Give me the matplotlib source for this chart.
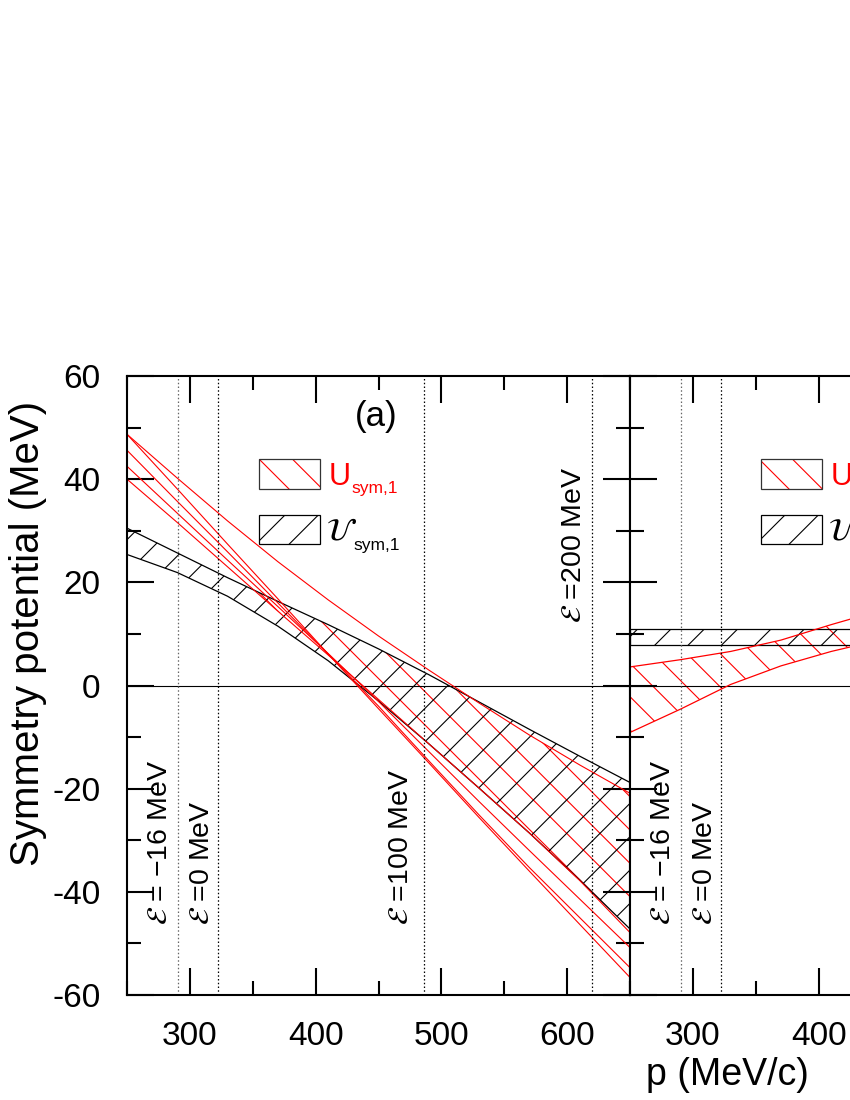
import numpy as np
import matplotlib
matplotlib.use('Agg')
import matplotlib.pyplot as plt
from matplotlib.patches import Rectangle

plt.rcParams['font.family'] = 'Liberation Sans'
plt.rcParams['mathtext.fontset'] = 'stix'
plt.rcParams['hatch.linewidth'] = 0.8
plt.rcParams['axes.unicode_minus'] = False

# ---- data ----
# panel (a): momentum grid (MeV/c)
p_a = [250, 290, 330, 370, 410, 450, 490, 530, 570, 610, 650]
# black band (script U_sym,1)
blk_up_a = [30.5, 25.7, 20.9, 16.3, 11.8, 7.1, 2.1, -3.2, -8.5, -13.7, -18.8]
blk_lo_a = [25.4, 21.9, 17.3, 11.5, 4.8, -3.0, -11.3, -19.9, -28.6, -37.7, -47.2]
# red curves (U_sym,1)
red_A = [48.7, 40.2, 31.9, 24.0, 16.6, 9.6, 3.0, -3.4, -9.6, -15.4, -20.9]
red_B = [40.0, 31.6, 23.0, 14.4, 5.9, -2.7, -11.3, -19.9, -28.6, -37.8, -47.9]
red_C = [42.5, 33.4, 24.3, 15.3, 6.2, -3.1, -12.8, -22.5, -32.0, -41.4, -50.8]
red_D = [45.6, 35.7, 25.9, 16.0, 6.1, -4.0, -14.6, -25.1, -35.3, -45.0, -54.7]
red_E = [48.7, 38.1, 27.4, 16.8, 6.1, -4.5, -15.0, -25.6, -36.0, -46.3, -56.6]

# second panel (cut off at the right edge)
p_b = [250, 290, 330, 370, 410, 450, 490]
blk_up_b = [10.9, 10.9, 10.9, 10.9, 10.9, 10.9, 10.9]
blk_lo_b = [7.8, 7.8, 7.8, 7.8, 7.8, 7.8, 7.8]
red_up_b = [3.6, 5.0, 6.6, 8.8, 11.8, 14.6, 17.2]
red_lo_b = [-9.1, -4.6, 0.2, 3.8, 6.6, 8.9, 10.8]

# vertical energy markers (p where E = -16, 0, 100, 200 MeV)
e_p = [290.5, 322.5, 485.8, 619.7]
e_labels = ['$\\mathcal{E}$ = \u221216 MeV', '$\\mathcal{E}$ =0 MeV',
            '$\\mathcal{E}$ =100 MeV', '$\\mathcal{E}$ =200 MeV']

xticks = [300, 400, 500, 600]
yticks = [-60, -40, -20, 0, 20, 40, 60]

fig = plt.figure(figsize=(8.5, 11), dpi=100)
W, H = 850., 1100.
ax1 = fig.add_axes([127/W, 1-995/H, 503/W, 619/H])
ax2 = fig.add_axes([630/W, 1-995/H, 503/W, 619/H])

def style(ax, left_labels):
    ax.set_xlim(250, 650)
    ax.set_ylim(-60, 60)
    ax.set_xticks(xticks)
    ax.set_xticks(np.arange(250, 651, 50), minor=True)
    ax.set_yticks(yticks)
    ax.set_yticks(np.arange(-60, 61, 10), minor=True)
    ax.tick_params(which='both', direction='in', top=True, right=True,
                   width=1.5, labelsize=24, pad=19, labelleft=left_labels)
    ax.tick_params(which='major', length=19.5)
    ax.tick_params(which='minor', length=10)
    for s in ax.spines.values():
        s.set_linewidth(1.5)
    ax.axhline(0, color='black', lw=0.8)

def legend_boxes(ax, x0):
    r1 = Rectangle((x0, 0.8174), 0.1213, 0.0485, transform=ax.transAxes,
                   facecolor='none', edgecolor='red', hatch='\\', lw=0)
    r1b = Rectangle((x0, 0.8174), 0.1213, 0.0485, transform=ax.transAxes,
                    facecolor='none', edgecolor='0.2', lw=0.9)
    r2 = Rectangle((x0, 0.7286), 0.1213, 0.0468, transform=ax.transAxes,
                   facecolor='none', edgecolor='black', hatch='/', lw=0.9)
    for r in (r1, r1b, r2):
        ax.add_patch(r)
    ax.text(x0 + 0.139, 0.8239, 'U', color='red', fontsize=22,
            transform=ax.transAxes, va='baseline')
    ax.text(x0 + 0.184, 0.811, 'sym,1', color='red', fontsize=12.5,
            transform=ax.transAxes, va='baseline')
    ax.text(x0 + 0.133, 0.735, '$\\mathcal{U}$', color='black', fontsize=22,
            transform=ax.transAxes, va='baseline')
    ax.text(x0 + 0.188, 0.719, 'sym,1', color='black', fontsize=12.5,
            transform=ax.transAxes, va='baseline')

def markers(ax, n):
    for i in range(n):
        c = '0.4' if i == 0 else 'black'
        ax.axvline(e_p[i], color=c, lw=0.9, ls=(0, (1.2, 1.8)))
    tr = ax.get_xaxis_transform()
    xs = [276.3, 309.8, 467.5, 605.4]
    ys = [0.113, 0.113, 0.113, 0.601]
    for i in range(n):
        ax.text(xs[i], ys[i], e_labels[i], rotation=90, fontsize=20.5,
                ha='center', va='bottom', transform=tr)

# ---- panel (a) ----
style(ax1, True)
pa = np.array(p_a)
reds = np.array([red_A, red_B, red_C, red_D, red_E])
env_hi = np.minimum(reds.max(axis=0), blk_up_a)
env_lo = np.maximum(reds.min(axis=0), blk_lo_a)
ax1.fill_between(pa, env_lo, env_hi, where=env_hi > env_lo, interpolate=True,
                 facecolor='none', edgecolor='red', hatch='\\', lw=0)
ax1.fill_between(pa, blk_lo_a, blk_up_a, facecolor='none', edgecolor='black',
                 hatch='/', lw=0.9)
for r in reds:
    ax1.plot(pa, r, color='red', lw=0.8)
markers(ax1, 4)
legend_boxes(ax1, 0.2624)
ax1.text(0.496, 0.935, '(a)', transform=ax1.transAxes, fontsize=25,
         ha='center', va='center')

# ---- second panel ----
style(ax2, False)
ax2.fill_between(p_b, red_lo_b, red_up_b, facecolor='none', edgecolor='red',
                 hatch='\\', lw=0)
ax2.plot(p_b, red_up_b, color='red', lw=0.9)
ax2.plot(p_b, red_lo_b, color='red', lw=0.9)
ax2.fill_between(p_b, blk_lo_b, blk_up_b, facecolor='none', edgecolor='black',
                 hatch='/', lw=0.9)
markers(ax2, 2)
legend_boxes(ax2, 0.2598)

fig.text(28/W, 1-633/H, 'Symmetry potential (MeV)', rotation=90,
         fontsize=29, ha='center', va='center')
fig.text(727/W, 1-1075/H, 'p (MeV/c)', fontsize=27, ha='center', va='center')

fig.savefig('out.png', dpi=100)
